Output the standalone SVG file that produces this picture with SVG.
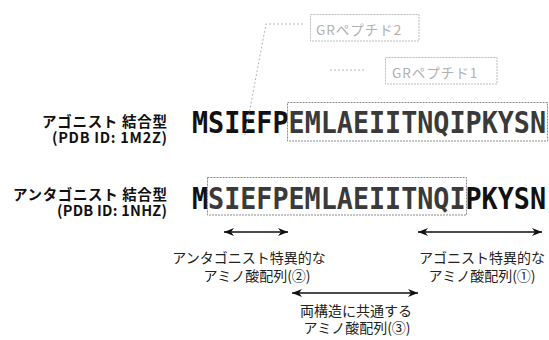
<svg xmlns="http://www.w3.org/2000/svg" width="549" height="340" viewBox="0 0 549 340">
<defs>
<style>
.lbl{font-family:"Noto Sans CJK JP","Noto Sans",sans-serif;font-weight:bold;font-size:14.5px;fill:#111;text-anchor:end}
.seq{font-family:"DejaVu Sans Mono",monospace;font-weight:bold;font-size:30px;fill:#111}
.boxed{fill:#3a3a3a}
.cap{font-family:"Noto Sans CJK JP",sans-serif;font-size:14px;fill:#222;text-anchor:middle}
.gr{font-family:"Noto Sans CJK JP",sans-serif;font-size:13.5px;letter-spacing:1px;fill:#b0b0b0}
.dbox{fill:none;stroke:#8a8a8a;stroke-width:1;stroke-dasharray:2 1}
.grbox{fill:none;stroke:#bdbdbd;stroke-width:1;stroke-dasharray:2 1}
.lead{fill:none;stroke:#b5b5b5;stroke-width:1;stroke-dasharray:2 2}
.arr{stroke:#111;stroke-width:1.5;marker-start:url(#ah);marker-end:url(#ah)}
</style>
<marker id="ah" viewBox="0 0 10 8" refX="10" refY="4" markerWidth="10" markerHeight="8" markerUnits="userSpaceOnUse" orient="auto-start-reverse">
<path d="M0,0 L10,4 L0,8 L3,4 z" fill="#111"/>
</marker>
</defs>

<g id="label-agonist">
<text class="lbl" x="167" y="127" textLength="125">アゴニスト 結合型</text>
<text class="lbl" x="167" y="143" textLength="115">(PDB ID: 1M2Z)</text>
</g>
<g id="label-antagonist">
<text class="lbl" x="167" y="200" textLength="154">アンタゴニスト 結合型</text>
<text class="lbl" x="167" y="216" textLength="110">(PDB ID: 1NHZ)</text>
</g>

<g id="seq-agonist">
<text class="seq" x="192" y="133" textLength="354" lengthAdjust="spacingAndGlyphs">MSIEFP<tspan class="boxed">EMLAEIITNQIPKYSN</tspan></text>
<rect class="dbox" x="287.5" y="102.5" width="260" height="38.5"/>
</g>
<g id="seq-antagonist">
<text class="seq" x="192" y="209" textLength="354" lengthAdjust="spacingAndGlyphs">M<tspan class="boxed">SIEFPEMLAEIITNQI</tspan>PKYSN</text>
<rect class="dbox" x="207.5" y="177.5" width="259" height="37.5"/>
</g>

<g id="gr-peptide2">
<rect class="grbox" x="310.5" y="14.5" width="108.5" height="26.5"/>
<text class="gr" x="316" y="35">GRペプチド2</text>
</g>
<g id="gr-peptide1">
<rect class="grbox" x="385.5" y="57.5" width="111.5" height="26.5"/>
<text class="gr" x="392" y="78">GRペプチド1</text>
</g>

<g id="cap-antagonist">
<text class="cap" x="249" y="263">アンタゴニスト特異的な</text>
<text class="cap" x="257" y="281">アミノ酸配列(②)</text>
</g>
<g id="cap-agonist">
<text class="cap" x="482" y="263">アゴニスト特異的な</text>
<text class="cap" x="482" y="281">アミノ酸配列(①)</text>
</g>
<g id="cap-common">
<text class="cap" x="356" y="316">両構造に共通する</text>
<text class="cap" x="357" y="333">アミノ酸配列(③)</text>
</g>

<g id="connectors">
<polyline class="lead" points="303,24 266,24 245,135"/>
<line class="lead" x1="330" y1="70" x2="366" y2="70"/>
<line class="arr" x1="224" y1="232" x2="288" y2="232"/>
<line class="arr" x1="418" y1="232" x2="542" y2="232"/>
<line class="arr" x1="292" y1="293" x2="418" y2="293"/>
</g>
</svg>
